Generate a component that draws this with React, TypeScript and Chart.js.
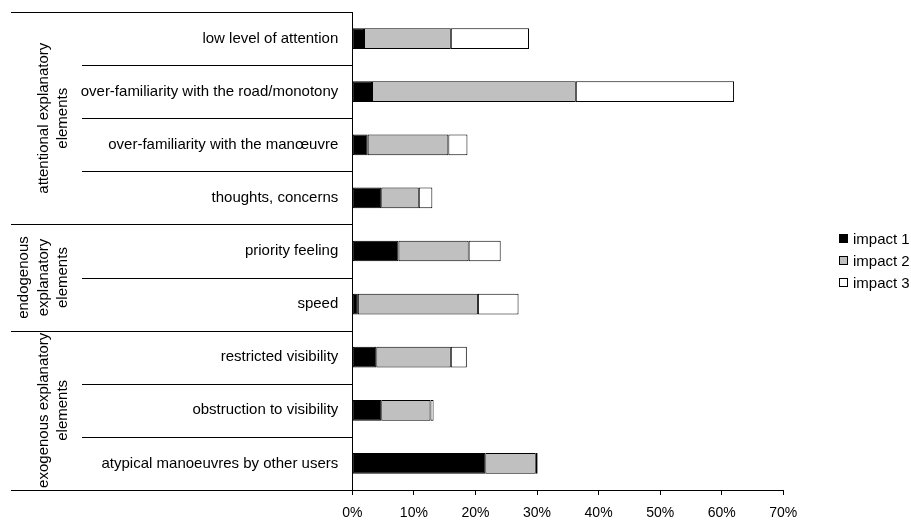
import React, { useEffect, useRef } from "react";
import { Chart, registerables } from "chart.js";

Chart.register(...registerables);

const categories = [
  "low level of attention",
  "over-familiarity with the road/monotony",
  "over-familiarity with the manœuvre",
  "thoughts, concerns",
  "priority feeling",
  "speed",
  "restricted visibility",
  "obstruction to visibility",
  "atypical manoeuvres by other users",
];
const impact1 = [1.9, 3.2, 2.5, 4.7, 7.5, 0.9, 3.9, 4.7, 21.6];
const impact2 = [14.1, 33.1, 13.1, 6.1, 11.4, 19.5, 12.1, 8.0, 8.2];
const impact3 = [12.7, 25.7, 3.1, 2.2, 5.2, 6.6, 2.6, 0.5, 0.3];
const seriesNames = ["impact 1", "impact 2", "impact 3"];
const seriesColors = ["#000000", "#c0c0c0", "#ffffff"];
const groupLabels = [
  ["attentional explanatory", "elements"],
  ["endogenous", "explanatory", "elements"],
  ["exogenous explanatory", "elements"],
];
const groupSizes = [4, 2, 3];
const xTicks = [0, 10, 20, 30, 40, 50, 60, 70];

const FONT = "'Liberation Sans', Arial, sans-serif";

const decorPlugin = {
  id: "decor",
  afterDraw(chart: any) {
    const ctx = chart.ctx;
    const y = chart.scales.y;
    const area = chart.chartArea;
    const half = (y.getPixelForValue(1) - y.getPixelForValue(0)) / 2;
    const boundary = (k: number) => y.getPixelForValue(0) + (2 * k - 1) * half;
    const groupStarts: number[] = [0];
    groupSizes.forEach((s, i) => groupStarts.push(groupStarts[i] + s));
    ctx.save();
    ctx.strokeStyle = "#000";
    ctx.lineWidth = 1;
    for (let k = 0; k <= categories.length; k++) {
      const yy = Math.round(boundary(k)) + 0.5;
      const isGroup = groupStarts.includes(k);
      ctx.beginPath();
      ctx.moveTo(isGroup ? 11 : 82, yy);
      ctx.lineTo(area.left, yy);
      ctx.stroke();
    }
    // group labels
    ctx.fillStyle = "#000";
    ctx.font = `15px ${FONT}`;
    ctx.textAlign = "center";
    ctx.textBaseline = "middle";
    groupLabels.forEach((lines, g) => {
      const yc = (boundary(groupStarts[g]) + boundary(groupStarts[g + 1])) / 2;
      lines.forEach((txt, j) => {
        const xx = 63 - 19.5 * (lines.length - 1 - j);
        ctx.save();
        ctx.translate(xx, yc);
        ctx.rotate(-Math.PI / 2);
        ctx.fillText(txt, 0, 0);
        ctx.restore();
      });
    });
    // legend
    ctx.textAlign = "left";
    const legendY = [239, 261, 283];
    seriesNames.forEach((name, i) => {
      const cy = legendY[i];
      ctx.fillStyle = seriesColors[i];
      ctx.fillRect(839.5, cy - 4.5, 8, 8);
      ctx.strokeStyle = "#000";
      ctx.strokeRect(839.5, cy - 4.5, 8, 8);
      ctx.fillStyle = "#000";
      ctx.fillText(name, 853, cy + 0.5);
    });
    ctx.restore();
  },
};

export default function App() {
  const ref = useRef<HTMLCanvasElement>(null);
  useEffect(() => {
    if (!ref.current) return;
    Chart.defaults.font.family = FONT;
    Chart.defaults.color = "#000";
    const data = [impact1, impact2, impact3];
    const chart = new Chart(ref.current, {
      type: "bar",
      data: {
        labels: categories,
        datasets: seriesNames.map((name, i) => ({
          label: name,
          data: data[i],
          backgroundColor: seriesColors[i],
          borderColor: "#000",
          borderWidth: 1,
          borderSkipped: false,
          barPercentage: 0.39,
          categoryPercentage: 1,
        })),
      },
      options: {
        indexAxis: "y",
        animation: false,
        responsive: false,
        maintainAspectRatio: false,
        devicePixelRatio: 1,
        layout: { padding: { left: 0, top: 12, right: 127.7, bottom: 0 } },
        plugins: {
          legend: { display: false },
          tooltip: { enabled: false },
        },
        scales: {
          x: {
            stacked: true,
            min: 0,
            max: 70,
            afterBuildTicks: (scale: any) => {
              scale.ticks = xTicks.map((v) => ({ value: v }));
            },
            afterFit: (scale: any) => {
              scale.height = 31;
              scale.paddingLeft = 0;
              scale.paddingRight = 0;
            },
            grid: {
              drawOnChartArea: false,
              drawTicks: true,
              tickLength: 5,
              color: "#000",
            },
            border: { display: true, color: "#000", width: 1 },
            ticks: {
              padding: 10,
              font: { size: 14 },
              color: "#000",
              maxRotation: 0,
              callback: (v: any) => `${v}%`,
            },
          },
          y: {
            stacked: true,
            afterFit: (scale: any) => {
              scale.width = 352.3;
              scale.paddingTop = 0;
              scale.paddingBottom = 0;
            },
            grid: { display: false, drawTicks: false },
            border: { display: true, color: "#000", width: 1 },
            ticks: {
              padding: 14,
              font: { size: 15 },
              color: "#000",
              autoSkip: false,
            },
          },
        },
      },
      plugins: [decorPlugin],
    } as any);
    return () => chart.destroy();
  }, []);
  return (
    <div style={{ position: "absolute", left: 0, top: 0, width: 911, height: 521, background: "#fff" }}>
      <canvas ref={ref} width={911} height={521} style={{ width: 911, height: 521 }} />
    </div>
  );
}
